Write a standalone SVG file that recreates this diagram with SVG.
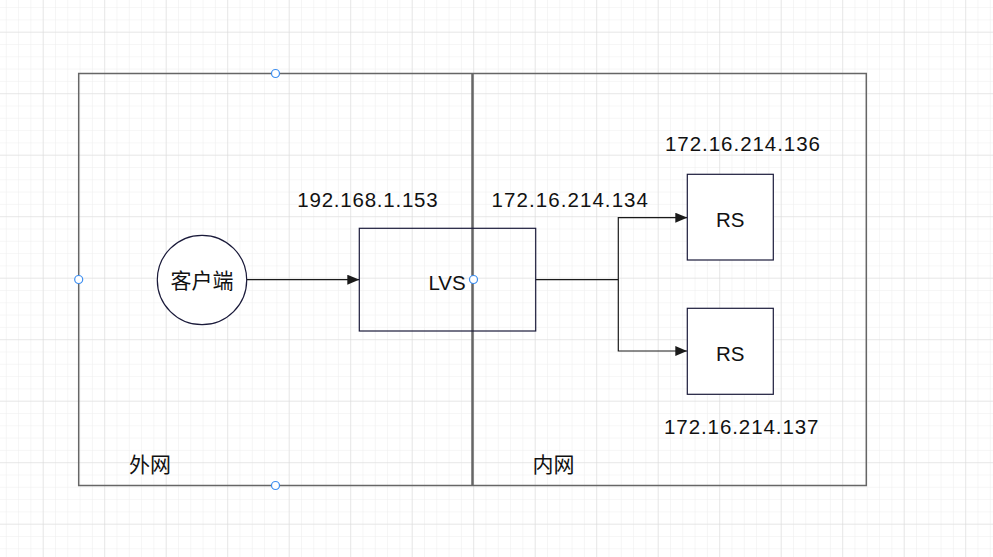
<svg xmlns="http://www.w3.org/2000/svg" width="993" height="557" viewBox="0 0 993 557">
<defs>
<pattern id="minor" x="5.8" y="7.1" width="12.3" height="12.3" patternUnits="userSpaceOnUse">
<path d="M0 0 V12.3 M0 0 H12.3" fill="none" stroke="#ededed" stroke-width="1"/>
</pattern>
<pattern id="major" x="42.7" y="31.7" width="61.5" height="61.5" patternUnits="userSpaceOnUse">
<path d="M0 0 V61.5 M0 0 H61.5" fill="none" stroke="#d9d9d9" stroke-width="1"/>
</pattern>
<marker id="arr" viewBox="0 0 12 10" refX="12" refY="5" markerWidth="12" markerHeight="10" markerUnits="userSpaceOnUse" orient="auto">
<path d="M0 0 L12 5 L0 10 Z" fill="#1a1a1a"/>
</marker>
<style>
.t{font-family:"Liberation Sans","Noto Sans CJK SC",sans-serif;font-size:20.5px;fill:#111111}
.c{font-family:"Noto Sans CJK SC","Liberation Sans",sans-serif;font-size:21px;fill:#111111}
.box{fill:#ffffff;stroke:#1a1a3a;stroke-width:1.2}
.h{fill:#ffffff;stroke:#3d8ef0;stroke-width:1.2}
.ln{fill:none;stroke:#1a1a1a;stroke-width:1.2}
</style>
</defs>
<rect width="993" height="557" fill="#ffffff"/>
<rect width="993" height="557" fill="url(#minor)"/>
<rect width="993" height="557" fill="url(#major)"/>

<g id="zones">
<rect x="78.7" y="73.5" width="787.6" height="412" fill="none" stroke="#666666" stroke-width="1.5"/>
<line x1="472.5" y1="73.5" x2="472.5" y2="485.5" stroke="#666666" stroke-width="2.5"/>
<text class="c" x="129" y="471.5">外网</text>
<text class="c" x="532.5" y="471.5">内网</text>
</g>

<g id="connectors">
<line class="ln" x1="246.7" y1="279.7" x2="359.3" y2="279.7" marker-end="url(#arr)"/>
<path class="ln" d="M535.7 279.7 H618.3 V217.7 H687.3" marker-end="url(#arr)"/>
<path class="ln" d="M618.3 279.7 V351 H687.3" marker-end="url(#arr)"/>
</g>

<g id="client">
<circle class="box" cx="202" cy="280" r="44.7"/>
<text class="c" x="202" y="288" text-anchor="middle">客户端</text>
</g>

<g id="lvs">
<rect class="box" x="359.3" y="228.3" width="176.4" height="102.7" fill-opacity="0"/>
<text class="t" x="447" y="289.5" text-anchor="middle">LVS</text>
<text class="t" x="297.3" y="206.7" textLength="140.4" lengthAdjust="spacing">192.168.1.153</text>
<text class="t" x="491.5" y="206.7" textLength="156.5" lengthAdjust="spacing">172.16.214.134</text>
</g>

<g id="rs1">
<rect class="box" x="687.3" y="174.3" width="86" height="85.7"/>
<text class="t" x="730.3" y="226.5" text-anchor="middle">RS</text>
<text class="t" x="665" y="150.7" textLength="155" lengthAdjust="spacing">172.16.214.136</text>
</g>

<g id="rs2">
<rect class="box" x="687.3" y="308.3" width="86" height="86"/>
<text class="t" x="730.3" y="360.5" text-anchor="middle">RS</text>
<text class="t" x="664" y="434" textLength="154.5" lengthAdjust="spacing">172.16.214.137</text>
</g>

<g id="handles">
<circle class="h" cx="275.5" cy="73.5" r="4"/>
<circle class="h" cx="78.7" cy="279.5" r="4"/>
<circle class="h" cx="275.5" cy="485.5" r="4"/>
<circle class="h" cx="473.5" cy="279.5" r="4"/>
</g>
</svg>
